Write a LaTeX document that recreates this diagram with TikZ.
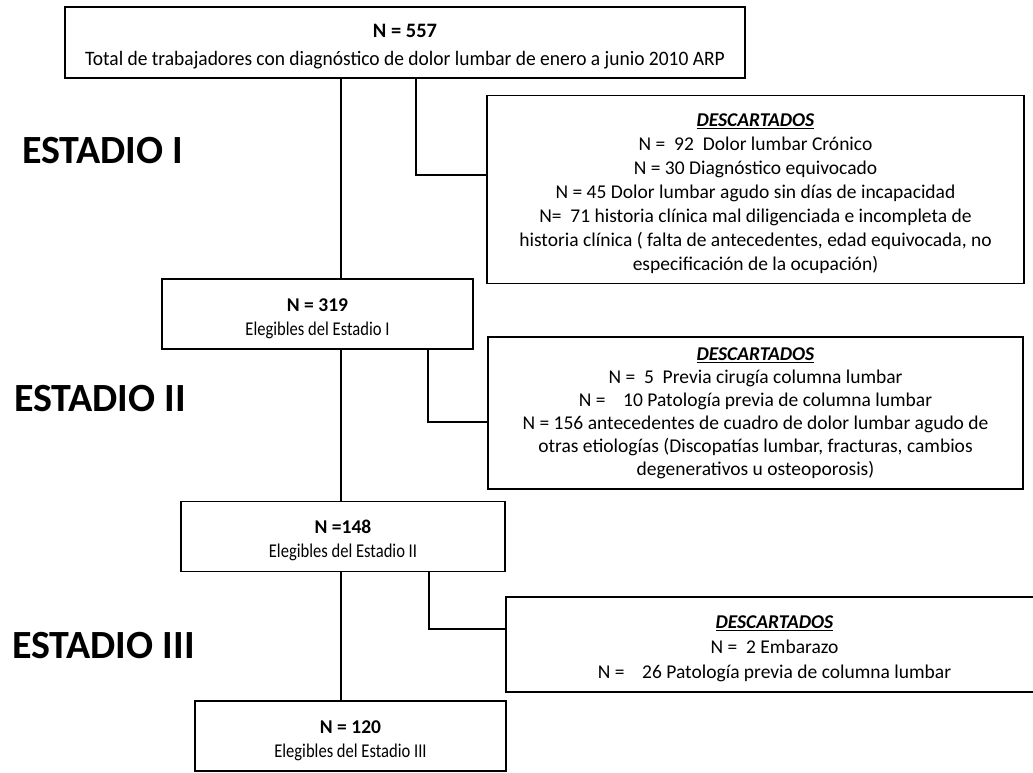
\documentclass[tikz,border=0pt]{standalone}
\usepackage{fontspec}
\setmainfont{Carlito}
\newfontfamily\narrowfont{Carlito}[FakeStretch=0.85]
\newfontfamily\wideishfont{Carlito}[FakeStretch=0.95]
\usetikzlibrary{positioning}
\tikzset{
  countbox/.style={
    draw,
    line width=1.2pt,
    align=center,
    inner sep=0pt,
    font=\fontsize{19.5}{24}\selectfont,
  },
  dropbox/.style={
    draw,
    line width=1.2pt,
    align=center,
    inner sep=0pt,
    font=\fontsize{19.5}{24}\selectfont,
  },
  stagelabel/.style={
    anchor=base west,
    inner sep=0pt,
    font=\fontsize{40}{44}\selectfont\bfseries,
  },
  link/.style={
    line width=1.2pt,
  },
}
\newcommand{\droptitle}{\underline{\textbf{\textit{DESCARTADOS}}}}
\newcommand{\topstrut}{\rule{0pt}{22pt}}

\begin{document}
\begin{tikzpicture}[x=1pt,y=-1pt]
\useasboundingbox (0,0) rectangle (1033,772);
\clip (0,0) rectangle (1033,772);

% cohort boxes
\node[countbox, minimum width=680pt, minimum height=71pt,
  font=\fontsize{20.5}{28}\selectfont]
  (n557) at (405,42.5)
  {\topstrut\textbf{N = 557}\\{\wideishfont Total de trabajadores con diagnóstico de dolor lumbar de enero a junio 2010 ARP}};
\node[countbox, minimum width=311pt, minimum height=70pt]
  (n319) at (317.5,314)
  {\topstrut\textbf{N = 319}\\{\narrowfont Elegibles del Estadio I}};
\node[countbox, minimum width=324pt, minimum height=70pt]
  (n148) at (343,536.5)
  {\topstrut\textbf{N =148}\\{\narrowfont Elegibles del Estadio II}};
\node[countbox, minimum width=311pt, minimum height=70pt]
  (n120) at (350.5,736)
  {\topstrut\textbf{N = 120}\\{\narrowfont Elegibles del Estadio III}};

% discarded boxes
\node[dropbox, minimum width=537pt, minimum height=188pt]
  (desc1) at (755.5,189.5)
  {\topstrut\droptitle\\
   N = \ 92 \ Dolor lumbar Crónico\\
   N = 30 Diagnóstico equivocado\\
   N = 45 Dolor lumbar agudo sin días de incapacidad\\
   N= \ 71 historia clínica mal diligenciada e incompleta de\\
   historia clínica ( falta de antecedentes, edad equivocada, no\\
   especificación de la ocupación)};
\node[dropbox, minimum width=535pt, minimum height=152pt, font=\fontsize{19.5}{23}\selectfont]
  (desc2) at (755.5,413)
  {\droptitle\\
   N = \ 5 \ Previa cirugía columna lumbar\\
   N = \ \ \ 10 Patología previa de columna lumbar\\
   N = 156 antecedentes de cuadro de dolor lumbar agudo de\\
   otras etiologías (Discopatías lumbar, fracturas, cambios\\
   degenerativos u osteoporosis)};
\node[dropbox, minimum width=537pt, minimum height=95pt, font=\fontsize{19.5}{25}\selectfont]
  (desc3) at (774.5,644.5)
  {\topstrut\droptitle\\
   N = \ 2 Embarazo\\
   N = \ \ \ 26 Patología previa de columna lumbar};

% stage labels
\node[stagelabel] (st1) at (22,163) {ESTADIO I};
\node[stagelabel] (st2) at (14,411) {ESTADIO II};
\node[stagelabel] (st3) at (12,658) {ESTADIO III};

% connectors
\coordinate (trunk) at (341,0);
\coordinate (tap1) at (416,175);
\coordinate (tap2) at (428,422);
\coordinate (tap3) at (429,629);
\begin{scope}[link]
\draw (trunk |- n557.south) -- (trunk |- n319.north);
\draw (trunk |- n319.south) -- (trunk |- n148.north);
\draw (trunk |- n148.south) -- (trunk |- n120.north);
\draw (tap1 |- n557.south) -- (tap1) -- (tap1 -| desc1.west);
\draw (tap2 |- n319.south) -- (tap2) -- (tap2 -| desc2.west);
\draw (tap3 |- n148.south) -- (tap3) -- (tap3 -| desc3.west);
\end{scope}
\end{tikzpicture}
\end{document}
